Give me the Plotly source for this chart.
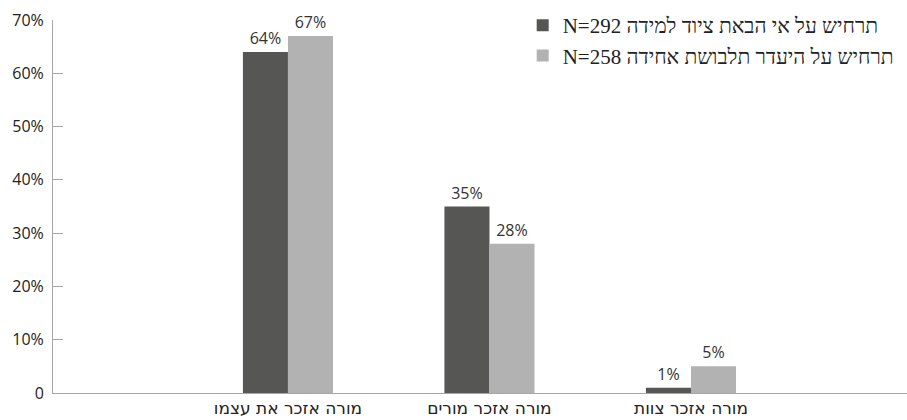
import plotly.graph_objects as go

categories = ["מורה אזכר את עצמו", "מורה אזכר מורים", "מורה אזכר צוות"]
series_names = ["N=292 תרחיש על אי הבאת ציוד למידה", "N=258 תרחיש על היעדר תלבושת אחידה"]
equipment = [64, 35, 1]
uniform = [67, 28, 5]
ytick_vals = [0, 10, 20, 30, 40, 50, 60, 70]
ytick_text = ["0", "10%", "20%", "30%", "40%", "50%", "60%", "70%"]

colors = ["#565655", "#b2b2b2"]

fig = go.Figure()
for name, vals, col in zip(series_names, [equipment, uniform], colors):
    fig.add_trace(go.Bar(
        x=categories, y=vals, name=name, marker=dict(color=col, line=dict(width=0)),
        texttemplate="%{y}%", textposition="outside", cliponaxis=False,
        textfont=dict(family="Open Sans", size=16, color="#333333"),
    ))

fig.update_layout(
    width=907, height=420,
    margin=dict(l=53, r=0, t=20, b=27),
    plot_bgcolor="white", paper_bgcolor="white",
    barmode="group", bargap=0.553, bargroupgap=0,
    showlegend=True,
    legend=dict(x=0.55, y=1.04, xanchor="left", yanchor="top",
                font=dict(family="Liberation Serif", size=21, color="#222222"),
                bgcolor="rgba(0,0,0,0)", tracegroupgap=0),
    xaxis=dict(range=[-1.166, 3.072], showline=True, linecolor="#a6a6a6", linewidth=1,
               ticks="", showgrid=False, ticklabelstandoff=0,
               tickfont=dict(family="DejaVu Sans", size=17, color="#222222")),
    yaxis=dict(range=[0, 70], tickvals=ytick_vals, ticktext=ytick_text,
               showline=True, linecolor="#a6a6a6", linewidth=1,
               ticks="inside", ticklen=10, tickcolor="#a6a6a6",
               showgrid=False, zeroline=False, ticklabelstandoff=5,
               tickfont=dict(family="Open Sans", size=16, color="#222222")),
)

fig.write_html("out.html")
